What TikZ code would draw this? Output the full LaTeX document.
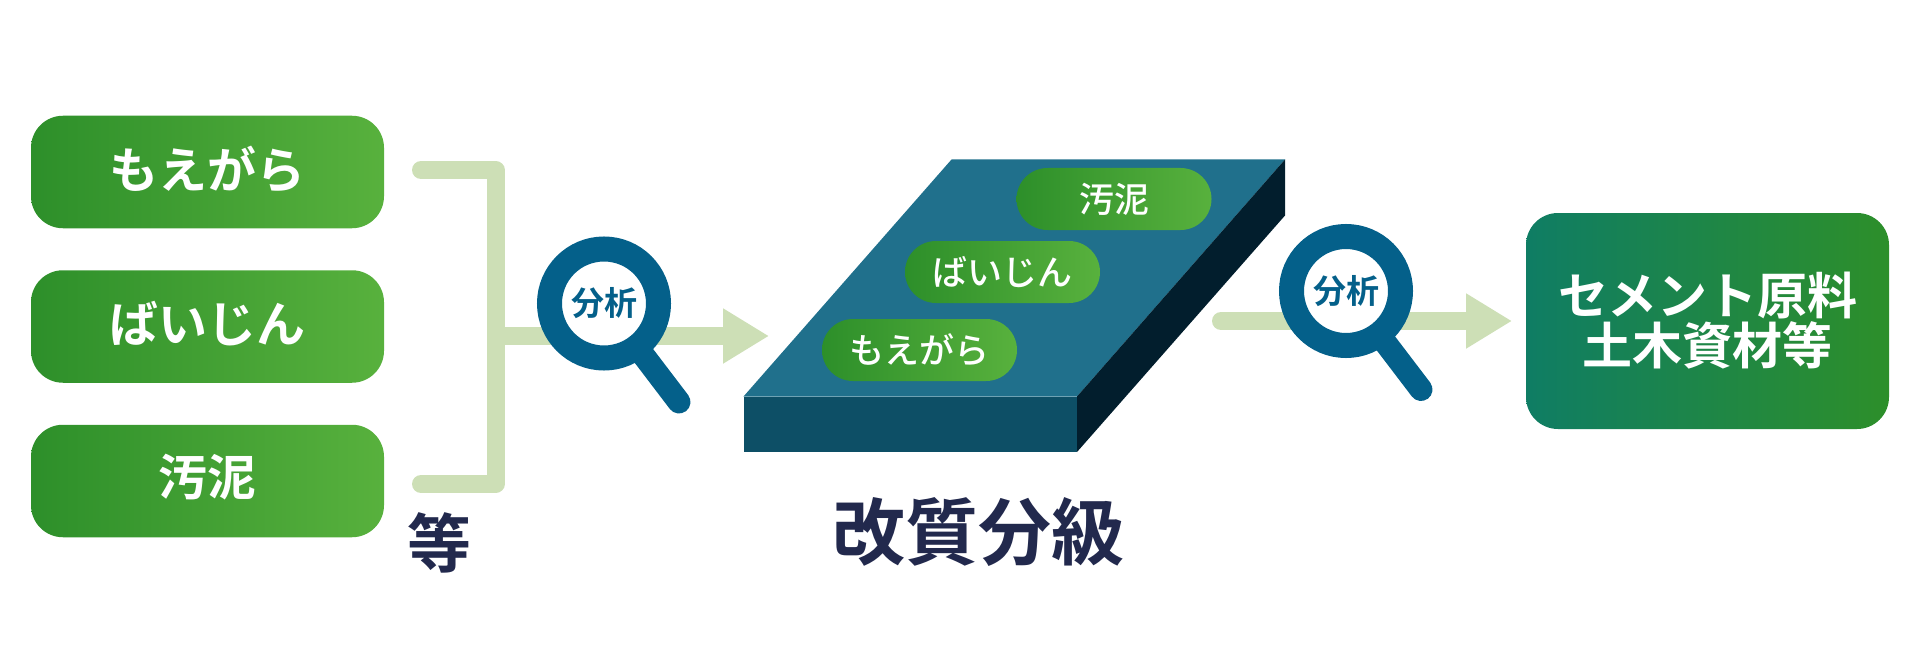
\documentclass[tikz,border=0pt]{standalone}
\usepackage{fontspec}
\usetikzlibrary{arrows.meta}
\newfontfamily\jpfont{Noto Sans CJK JP}[BoldFont={Noto Sans CJK JP Bold}]
\newfontfamily\jpmed{Noto Sans CJK JP Medium}
\newcommand{\fsz}[1]{\fontsize{#1}{#1}\selectfont}
\newcommand{\liftup}[2]{\raisebox{#1}[\height][\depth]{#2}}
\definecolor{gA}{HTML}{2D8F2A}
\definecolor{gB}{HTML}{58B13D}
\definecolor{tA}{HTML}{0F7D64}
\definecolor{flow}{HTML}{CDDFB6}
\definecolor{lensc}{HTML}{04608A}
\definecolor{ink}{HTML}{22294D}
\definecolor{slabtop}{HTML}{20708C}
\definecolor{slabfront}{HTML}{0D4F66}
\definecolor{slabside}{HTML}{021E2D}
\tikzset{
  srcbox/.style={rounded corners=32pt,left color=gA,right color=gB,minimum width=353pt,minimum height=112.5pt,inner sep=0pt,outer sep=0pt,text=white,font=\jpfont\bfseries\fsz{49}},
  pill/.style={rounded corners=31pt,left color=gA,right color=gB,minimum width=195pt,minimum height=62pt,inner sep=0pt,outer sep=0pt,text=white,font=\jpmed\fsz{35}},
  goalbox/.style={rounded corners=32pt,left color=tA,right color=gA,minimum width=363pt,minimum height=216pt,inner sep=0pt,outer sep=0pt,text=white,align=center,font=\jpfont\bfseries\fsz{50}},
  flowline/.style={draw=flow,line width=18pt,line join=round},
  lens/.style={circle,draw=lensc,fill=white,line width=25pt,minimum size=109pt,inner sep=0pt,outer sep=0pt,text=lensc,font=\jpfont\bfseries\fsz{33}},
  lenshandle/.style={draw=lensc,line width=23pt,line cap=round},
  caption/.style={text=ink,inner sep=0pt,font=\jpfont\bfseries},
}
\begin{document}
\begin{tikzpicture}[x=1pt,y=-1pt]
\useasboundingbox (0,0) rectangle (1920,658);
% source boxes
\node[srcbox] (moe) at (207.5,172) {\liftup{3pt}{もえがら}};
\node[srcbox] (bai) at (207.5,326.5) {\liftup{3pt}{ばいじん}};
\node[srcbox] (dei) at (207.5,481) {\liftup{4pt}{汚泥}};
% bracket
\coordinate (brT) at (421,170);
\coordinate (brTc) at (495.5,170);
\coordinate (brBc) at (495.5,484);
\coordinate (brB) at (421,484);
\coordinate (brM) at (495.5,336);
\coordinate (arrL) at (769,336);
\draw[flowline,line cap=round] (brT) -- (brTc) -- (brBc) -- (brB);
\draw[flowline,-{Triangle[width=52pt,length=46pt]}] (brM) -- (arrL);
% label
\node[caption,font=\jpfont\bfseries\fsz{64}] (etc) at (439,543) {等};
% first lens
\node[lens] (lensA) at (604,303.5) {分析};
\coordinate (capA) at (679,402);
\draw[lenshandle] (lensA) -- (capA);
% slab
\coordinate (s1) at (743.5,396.5);
\coordinate (s2) at (1077,396.5);
\coordinate (s3) at (1285,159.5);
\coordinate (s4) at (951.5,159.5);
\coordinate (s5) at (743.5,452);
\coordinate (s6) at (1077,452);
\coordinate (s7) at (1285,215.5);
\fill[slabtop] (s1) -- (s2) -- (s3) -- (s4) -- cycle;
\fill[slabfront] (s1) -- (s2) -- (s6) -- (s5) -- cycle;
\fill[slabside] (s2) -- (s3) -- (s7) -- (s6) -- cycle;
\node[pill] (p3) at (1114,199) {汚泥};
\node[pill] (p2) at (1002.5,272) {ばいじん};
\node[pill] (p1) at (919.5,350) {もえがら};
\node[caption,font=\jpfont\bfseries\fsz{73}] (grade) at (978,532) {改質分級};
% right arrow
\coordinate (arrS) at (1221,321);
\coordinate (arrE) at (1512,321);
\draw[flowline,line cap=round,-{Triangle[width=52pt,length=46pt]}] (arrS) -- (arrE);
\node[lens] (lensB) at (1346,291) {分析};
\coordinate (capB) at (1421,389.5);
\draw[lenshandle] (lensB) -- (capB);
% goal
\node[goalbox] (goal) at (1707.5,321) {セメント原料\\土木資材等};
\end{tikzpicture}
\end{document}
